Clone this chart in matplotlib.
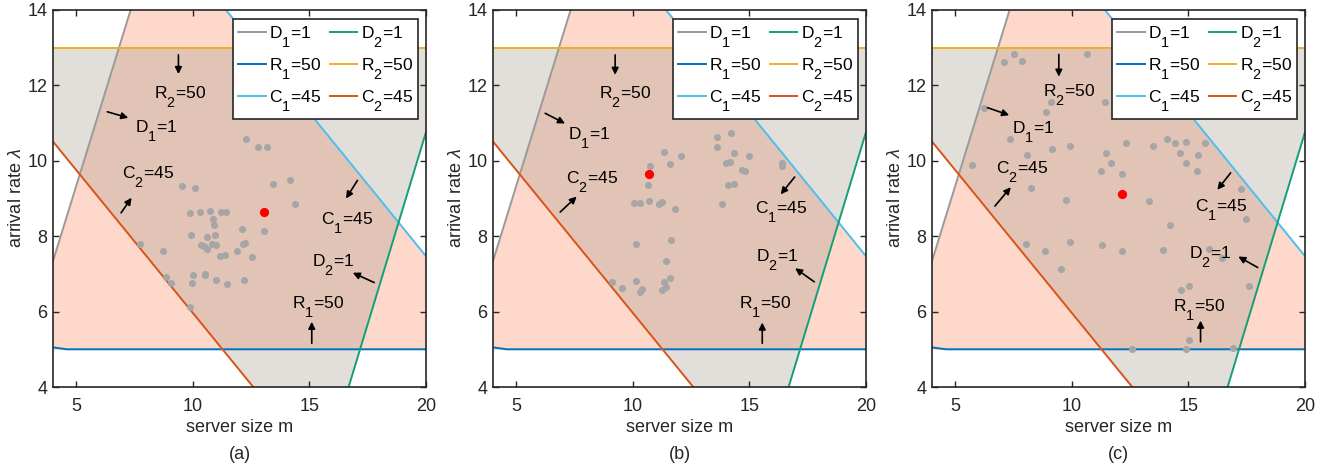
import numpy as np
import matplotlib
import matplotlib.pyplot as plt

plt.rcParams['font.family'] = ['Liberation Sans', 'DejaVu Sans']
plt.rcParams['mathtext.fontset'] = 'custom'
plt.rcParams['mathtext.rm'] = 'Liberation Sans'
plt.rcParams['mathtext.it'] = 'Liberation Sans:italic'

# MATLAB-like subscripts: bigger and lower than mathtext default
try:
    matplotlib._mathtext.SHRINK_FACTOR = 0.83
    matplotlib._mathtext.FontConstantsBase.sub1 = 1.1
except AttributeError:
    pass

# constraint boundaries, two points per line (same in all panels)
d1_x = [4.0, 7.33]
d1_y = [7.34, 14.0]
d2_x = [16.68, 20.0]
d2_y = [4.0, 10.76]
c1_x = [11.42, 20.0]
c1_y = [14.0, 7.47]
c2_x = [4.0, 12.59]
c2_y = [10.51, 4.0]
r1_x = [4.0, 4.6, 20.0]
r1_y = [5.05, 5.0, 5.0]
r2_x = [4.0, 20.0]
r2_y = [13.0, 13.0]

# sampled points for each panel
a_x = [12.28, 12.78, 13.19, 9.53, 10.09, 13.45, 14.17, 14.37, 9.86, 10.32, 10.74,
       11.22, 11.42, 10.86, 10.89, 12.11, 13.07, 9.91, 10.96, 10.62, 10.36, 10.48,
       10.84, 11.01, 10.59, 12.15, 12.22, 11.91, 7.72, 8.70, 11.16, 11.36, 12.54,
       8.86, 9.08, 9.99, 9.97, 10.54, 10.53, 11.01, 11.46, 12.19, 9.86]
a_y = [10.58, 10.37, 10.36, 9.34, 9.28, 9.39, 9.50, 8.86, 8.62, 8.64, 8.68,
       8.63, 8.64, 8.46, 8.31, 8.18, 8.15, 8.04, 8.03, 7.97, 7.77, 7.75,
       7.78, 7.77, 7.65, 7.80, 7.81, 7.61, 7.80, 7.61, 7.47, 7.49, 7.46,
       6.91, 6.75, 6.96, 6.77, 7.01, 6.96, 6.84, 6.73, 6.83, 6.12]
a_best = (13.07, 8.64)

b_x = [11.32, 12.06, 11.59, 10.72, 10.63, 10.03, 10.31, 10.70, 11.13, 11.23, 11.79,
       10.13, 11.62, 11.40, 9.12, 9.55, 10.13, 10.29, 10.37, 11.26, 11.33, 11.59,
       11.40, 13.59, 14.19, 13.62, 14.32, 14.99, 16.38, 16.40, 13.99, 14.16, 14.69,
       14.79, 14.06, 14.32, 13.84]
b_y = [10.24, 10.14, 9.92, 9.87, 9.36, 8.88, 8.88, 8.94, 8.86, 8.90, 8.73,
       7.78, 7.89, 7.35, 6.79, 6.62, 6.81, 6.51, 6.61, 6.57, 6.79, 6.88,
       6.64, 10.63, 10.74, 10.37, 10.20, 10.13, 9.93, 9.87, 9.95, 9.97, 9.76,
       9.73, 9.35, 9.39, 8.85]
b_best = (10.70, 9.66)

c_x = [7.09, 7.52, 7.84, 10.63, 6.22, 8.88, 9.09, 11.41, 7.35, 8.09, 9.14, 9.91,
       5.73, 8.25, 9.74, 11.48, 11.67, 11.24, 12.13, 12.34, 13.32, 13.50, 14.06,
       14.42, 14.63, 14.89, 14.89, 15.42, 15.38, 15.71, 17.24, 17.49, 14.20, 8.02,
       8.84, 9.91, 9.52, 11.31, 12.16, 13.93, 15.88, 16.45, 17.59, 14.70, 15.03,
       15.03, 14.89, 12.57, 16.92]
c_y = [12.63, 12.84, 12.66, 12.82, 11.41, 11.29, 11.56, 11.55, 10.58, 10.15, 10.30, 10.40,
       9.89, 9.29, 8.95, 10.20, 9.95, 9.74, 9.64, 10.47, 8.94, 10.40, 10.59,
       10.47, 10.22, 10.49, 9.95, 10.15, 9.73, 10.46, 9.26, 8.45, 8.31, 7.80,
       7.62, 7.84, 7.13, 7.76, 7.62, 7.63, 7.67, 7.43, 6.68, 6.56, 6.67,
       5.25, 5.01, 5.01, 5.03]
c_best = (12.13, 9.11)

labels = ['D$_1$=1', 'R$_2$=50', 'C$_2$=45', 'C$_1$=45', 'D$_2$=1', 'R$_1$=50']

# annotation layout per panel: text centre, arrow tail, arrow head (same order as labels)
notes_a = [((8.42, 10.92), (6.33, 11.30), (7.23, 11.14)),
           ((9.45, 11.83), (9.38, 12.81), (9.38, 12.30)),
           ((8.09, 9.69), (6.92, 8.62), (7.37, 9.02)),
           ((16.60, 8.47), (17.06, 9.48), (16.57, 9.00)),
           ((16.03, 7.37), (17.78, 6.77), (16.86, 7.03)),
           ((15.38, 6.26), (15.10, 5.16), (15.10, 5.73))]
notes_b = [((8.12, 10.73), (6.24, 11.26), (7.09, 10.99)),
           ((9.67, 11.82), (9.24, 12.81), (9.24, 12.28)),
           ((8.26, 9.58), (6.88, 8.64), (7.59, 9.05)),
           ((16.37, 8.78), (16.94, 9.57), (16.34, 9.11)),
           ((16.17, 7.50), (17.78, 6.79), (16.96, 7.15)),
           ((15.67, 6.26), (15.55, 5.16), (15.55, 5.71))]
notes_c = [((8.34, 10.89), (6.38, 11.41), (7.31, 11.21)),
           ((9.87, 11.88), (9.44, 12.82), (9.44, 12.23)),
           ((7.84, 9.83), (6.70, 8.80), (7.38, 9.30)),
           ((16.39, 8.83), (16.81, 9.68), (16.24, 9.23)),
           ((15.92, 7.59), (17.97, 7.17), (17.14, 7.46)),
           ((15.46, 6.17), (15.52, 5.20), (15.52, 5.76))]


def lin(px, py, x):
    k = (py[1] - py[0]) / (px[1] - px[0])
    return py[0] + k * (x - px[0])


def panel(ax, px, py, best, notes, tag):
    xs = np.linspace(4, 20, 801)
    # region of user 1 (D1, R1, C1) and user 2 (D2, R2, C2)
    top1 = np.minimum(np.minimum(lin(d1_x, d1_y, xs), lin(c1_x, c1_y, xs)), 14)
    ax.fill_between(xs, 5, top1, where=top1 > 5, interpolate=True,
                    color='#FDD8CB', lw=0, zorder=1)
    bot2 = np.maximum(np.maximum(lin(d2_x, d2_y, xs), lin(c2_x, c2_y, xs)), 4)
    ax.fill_between(xs, bot2, 13, where=bot2 < 13, interpolate=True,
                    color='#A19685', alpha=0.3, lw=0, zorder=1)

    ends = np.array([4.0, 20.0])
    lw = 1.4
    h = []
    h += ax.plot(ends, lin(d1_x, d1_y, ends), color='#9A9A9A', lw=lw, label='D$_1$=1')
    h += ax.plot(r1_x, r1_y, color='#0072BD', lw=lw, label='R$_1$=50')
    h += ax.plot(ends, lin(c1_x, c1_y, ends), color='#4DBEEE', lw=lw, label='C$_1$=45')
    h += ax.plot(ends, lin(d2_x, d2_y, ends), color='#12A07A', lw=lw, label='D$_2$=1')
    h += ax.plot(r2_x, r2_y, color='#EDB120', lw=lw, label='R$_2$=50')
    h += ax.plot(ends, lin(c2_x, c2_y, ends), color='#D95319', lw=lw, label='C$_2$=45')

    ax.scatter(px, py, s=26, color='#A6A6A6', lw=0, zorder=3)
    ax.scatter([best[0]], [best[1]], s=44, color='#FF0000', lw=0, zorder=4)

    for lab, (t, tail, head) in zip(labels, notes):
        # centre given for the capitals; place by baseline so the subscript hangs below
        ax.text(t[0], t[1] - 0.16, lab, ha='center', va='baseline', fontsize=12.5, zorder=5)
        ax.annotate('', xy=head, xytext=tail, zorder=5,
                    arrowprops=dict(arrowstyle='-|>', color='k', lw=1.2,
                                    mutation_scale=10, shrinkA=0, shrinkB=0))

    ax.set_xlim(4, 20)
    ax.set_ylim(4, 14)
    ax.set_xticks([5, 10, 15, 20])
    ax.set_yticks([4, 6, 8, 10, 12, 14])
    ax.tick_params(direction='in', top=True, right=True, length=4, width=1,
                   labelsize=13, colors='#262626')
    ax.tick_params(axis='x', pad=8)
    ax.tick_params(axis='y', pad=4)
    for s in ax.spines.values():
        s.set_color('#262626')
        s.set_linewidth(1.2)
        s.set_zorder(6)
    ax.set_xlabel('server size m', fontsize=13, color='#262626', labelpad=3)
    ax.set_ylabel('arrival rate $\\lambda$', fontsize=13, color='#262626', labelpad=2)
    ax.text(0.5, -0.18, tag, transform=ax.transAxes, ha='center', va='center',
            fontsize=13, color='#262626')

    leg = ax.legend(handles=h, ncol=2, loc='upper right', bbox_to_anchor=(0.979, 0.977),
                    borderaxespad=0, fontsize=12.5, handlelength=1.6, handletextpad=0.2,
                    columnspacing=0.5, labelspacing=0.36, borderpad=0.3,
                    fancybox=False, framealpha=1, edgecolor='#262626')
    leg.get_frame().set_linewidth(1.2)
    leg.set_zorder(7)


fig = plt.figure(figsize=(13.29, 4.70), dpi=100)
W, H = 1329, 470
for left, px, py, best, notes, tag in [(53, a_x, a_y, a_best, notes_a, '(a)'),
                                       (493, b_x, b_y, b_best, notes_b, '(b)'),
                                       (932, c_x, c_y, c_best, notes_c, '(c)')]:
    ax = fig.add_axes([left / W, 1 - 387 / H, 373 / W, 377 / H])
    panel(ax, px, py, best, notes, tag)

fig.savefig('out.png', dpi=100)
